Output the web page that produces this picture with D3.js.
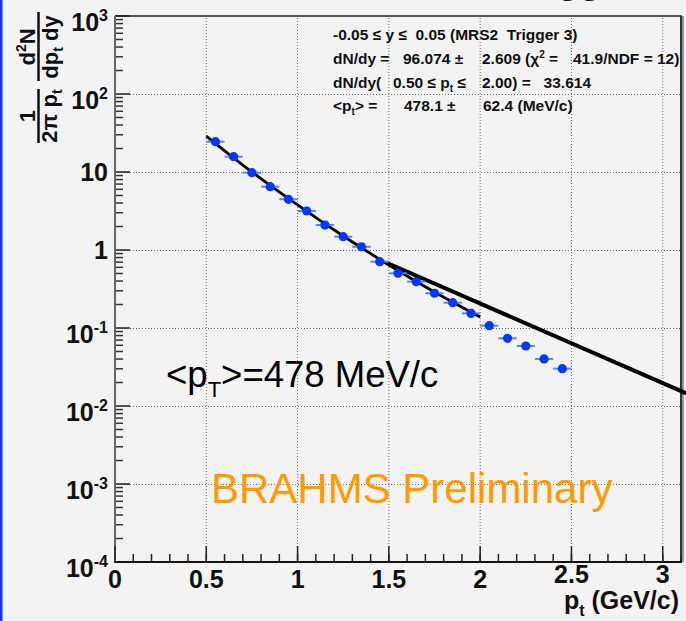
<!DOCTYPE html>
<html>
<head>
<meta charset="utf-8">
<script src="https://cdn.jsdelivr.net/npm/d3@7"></script>
<style>
  body { margin: 0; background: #f3f3f3; }
  svg { display: block; font-family: "Liberation Sans", Arial, sans-serif; }
  text { white-space: pre; }
</style>
</head>
<body>
<script>
// Spectrum data
var ptBins = [0.55, 0.65, 0.75, 0.85, 0.95, 1.05, 1.15, 1.25, 1.35, 1.45,
              1.55, 1.65, 1.75, 1.85, 1.95, 2.05, 2.15, 2.25, 2.35, 2.45];
var yields = [24.5, 15.7, 9.8, 6.48, 4.47, 3.16, 2.09, 1.48, 1.10, 0.708,
              0.502, 0.393, 0.279, 0.211, 0.154, 0.107, 0.0738, 0.0588, 0.0401, 0.0301];
var binHalf = 0.05;

// fit curve (0.5 - 2.0) and straight extrapolation line
var fitPt = [0.5, 0.75, 1.0, 1.25, 1.5, 1.75, 2.0];
var fitVal = [28.9, 10.0, 3.78, 1.51, 0.643, 0.289, 0.138];
var extPt = [1.488, 3.129];
var extVal = [0.687, 0.01455];

// axis ticks
var xTicks = [0, 0.5, 1, 1.5, 2, 2.5, 3];
var xTickLabels = ["0", "0.5", "1", "1.5", "2", "2.5", "3"];
var yDecades = [-4, -3, -2, -1, 0, 1, 2, 3];

// text
var statsLines = [
  [[333, "-0.05 \u2264 y \u2264  0.05 (MRS2  Trigger 3)"]],
  [[333, "dN/dy ="], [403, "96.074 \u00b1"], [482, "2.609 (\u03c7", "2", " ="], [573, "41.9/NDF = 12)"]],
  [[333, "dN/dy("], [393, "0.50 \u2264 p", "t", " \u2264"], [482, "2.00) =   33.614"]],
  [[333, "<p", "t", "> ="], [404, "478.1 \u00b1"], [483, "62.4 (MeV/c)"]]
];
var statsBase = [40, 64, 88, 111];

var w = 686;
var h = 621;

var xScale = d3.scaleLinear()
    .domain([0, 3.1])
    .range([115, 681]);

var yScale = d3.scaleLog()
    .domain([1e-4, 1e3])
    .range([562, 16]);

var svg = d3.select("body")
    .append("svg")
    .attr("width", w)
    .attr("height", h);

svg.append("rect")
    .attr("width", w)
    .attr("height", h)
    .attr("fill", "#f3f3f3");

// blue left stripe
svg.append("rect")
    .attr("x", 0).attr("y", 0)
    .attr("width", 2.5).attr("height", h)
    .attr("fill", "#1437ff");

// cut off title at the very top
svg.append("text")
    .attr("x", 557).attr("y", -7)
    .style("font", "bold 36px 'Liberation Sans', Arial, sans-serif")
    .attr("fill", "#111")
    .text("gg");

// grid
svg.append("g").selectAll("line")
    .data(xTicks.slice(1))
    .enter().append("line")
    .attr("x1", function(d) { return xScale(d); })
    .attr("x2", function(d) { return xScale(d); })
    .attr("y1", yScale.range()[0])
    .attr("y2", yScale.range()[1])
    .attr("stroke", "#666")
    .attr("stroke-width", 1)
    .attr("stroke-dasharray", "1,2");

svg.append("g").selectAll("line")
    .data(yDecades.slice(1, -1))
    .enter().append("line")
    .attr("x1", xScale.range()[0])
    .attr("x2", xScale.range()[1])
    .attr("y1", function(d) { return Math.round(yScale(Math.pow(10, d))) + 0.5; })
    .attr("y2", function(d) { return Math.round(yScale(Math.pow(10, d))) + 0.5; })
    .attr("stroke", "#666")
    .attr("stroke-width", 1)
    .attr("stroke-dasharray", "1,2");

// frame
var x0 = xScale.range()[0], x1 = xScale.range()[1];
var y0 = yScale.range()[0], y1 = yScale.range()[1];
svg.append("line").attr("x1", x1).attr("x2", x1).attr("y1", y1).attr("y2", y0)
    .attr("stroke", "#999").attr("stroke-width", 2).attr("transform", "translate(2,0)");
svg.append("line").attr("x1", x0).attr("x2", x1 + 1).attr("y1", y1).attr("y2", y1)
    .attr("stroke", "#222").attr("stroke-width", 1.5);
svg.append("line").attr("x1", x1).attr("x2", x1).attr("y1", y1).attr("y2", y0)
    .attr("stroke", "#333").attr("stroke-width", 2);

// y axis, ticks inside
var yMinor = [];
yDecades.slice(0, -1).forEach(function(e) {
  for (var k = 2; k <= 9; k++) yMinor.push(k * Math.pow(10, e));
});
svg.append("g").selectAll("line")
    .data(yMinor)
    .enter().append("line")
    .attr("x1", x0).attr("x2", x0 + 8)
    .attr("y1", function(d) { return yScale(d); })
    .attr("y2", function(d) { return yScale(d); })
    .attr("stroke", "#333").attr("stroke-width", 1.5);
svg.append("g").selectAll("line")
    .data(yDecades)
    .enter().append("line")
    .attr("x1", x0).attr("x2", x0 + 15)
    .attr("y1", function(d) { return yScale(Math.pow(10, d)); })
    .attr("y2", function(d) { return yScale(Math.pow(10, d)); })
    .attr("stroke", "#222").attr("stroke-width", 1.5);
svg.append("line").attr("x1", x0).attr("x2", x0).attr("y1", y1).attr("y2", y0 + 1)
    .attr("stroke", "#666").attr("stroke-width", 2);

// x axis, ticks inside
var xMinor = d3.range(1, 32).map(function(i) { return i / 10; });
svg.append("g").selectAll("line")
    .data(xMinor)
    .enter().append("line")
    .attr("x1", function(d) { return xScale(d); })
    .attr("x2", function(d) { return xScale(d); })
    .attr("y1", y0).attr("y2", y0 - 8)
    .attr("stroke", "#222").attr("stroke-width", 1.5);
svg.append("g").selectAll("line")
    .data(xTicks)
    .enter().append("line")
    .attr("x1", function(d) { return xScale(d); })
    .attr("x2", function(d) { return xScale(d); })
    .attr("y1", y0).attr("y2", y0 - 16)
    .attr("stroke", "#222").attr("stroke-width", 1.5);
svg.append("line").attr("x1", x0 - 1).attr("x2", x1 + 1).attr("y1", y0).attr("y2", y0)
    .attr("stroke", "#111").attr("stroke-width", 2);

// tick labels
var labelFont = "bold 25px 'Liberation Sans', Arial, sans-serif";
svg.append("g").selectAll("text")
    .data(xTicks)
    .enter().append("text")
    .attr("x", function(d) { return xScale(d); })
    .attr("y", function(d) { return d > 2.2 ? 583 : 588; })
    .attr("text-anchor", "middle")
    .style("font", labelFont)
    .attr("fill", "#111")
    .text(function(d, i) { return xTickLabels[i]; });

var yl = svg.append("g").selectAll("text")
    .data(yDecades)
    .enter().append("text")
    .attr("x", 108)
    .attr("y", function(d) {
      var ty = yScale(Math.pow(10, d));
      return (d === 0 || d === 1) ? ty + 9 : ty + 15;
    })
    .attr("text-anchor", "end")
    .style("font", labelFont)
    .attr("fill", "#111");
yl.append("tspan").text(function(d) { return d === 0 ? "1" : "10"; });
yl.filter(function(d) { return d !== 0 && d !== 1; })
    .append("tspan")
    .attr("dy", -10)
    .style("font-size", "16px")
    .text(function(d) { return String(d); });

// axis titles
var xt = svg.append("text")
    .attr("x", 679).attr("y", 609)
    .attr("text-anchor", "end")
    .style("font", labelFont)
    .attr("fill", "#111");
xt.append("tspan").text("p");
xt.append("tspan").attr("dy", 7).style("font-size", "16px").text("t");
xt.append("tspan").attr("dy", -7).text(" (GeV/c)");

var yt = svg.append("g").attr("transform", "rotate(-90)");
var titleFont = "bold 22px 'Liberation Sans', Arial, sans-serif";
// 1 / (2 pi p_t)
yt.append("text").attr("x", -116).attr("y", 35).attr("text-anchor", "middle")
    .style("font", titleFont).attr("fill", "#111").text("1");
yt.append("line").attr("x1", -143).attr("x2", -89).attr("y1", 38.5).attr("y2", 38.5)
    .attr("stroke", "#111").attr("stroke-width", 2.5);
var dn1 = yt.append("text").attr("x", -116).attr("y", 57).attr("text-anchor", "middle")
    .style("font", titleFont).attr("fill", "#111");
dn1.append("tspan").text("2\u03c0 p");
dn1.append("tspan").attr("dy", 5).style("font-size", "14px").text("t");
// d2N / (dp_t dy)
var nm2 = yt.append("text").attr("x", -47).attr("y", 35).attr("text-anchor", "middle")
    .style("font", titleFont).attr("fill", "#111");
nm2.append("tspan").text("d");
nm2.append("tspan").attr("dy", -9).style("font-size", "14px").text("2");
nm2.append("tspan").attr("dy", 9).text("N");
yt.append("line").attr("x1", -81).attr("x2", -12).attr("y1", 38.5).attr("y2", 38.5)
    .attr("stroke", "#111").attr("stroke-width", 2.5);
var dn2 = yt.append("text").attr("x", -47).attr("y", 58).attr("text-anchor", "middle")
    .style("font", titleFont).attr("fill", "#111");
dn2.append("tspan").text("dp");
dn2.append("tspan").attr("dy", 5).style("font-size", "14px").text("t");
dn2.append("tspan").attr("dy", -5).text(" dy");

// stats box text
var statsFont = "bold 15.5px 'Liberation Sans', Arial, sans-serif";
statsLines.forEach(function(line, li) {
  line.forEach(function(seg) {
    var t = svg.append("text")
        .attr("x", seg[0])
        .attr("y", statsBase[li])
        .style("font", statsFont)
        .attr("fill", "#111");
    t.append("tspan").text(seg[1]);
    if (seg.length > 2) {
      var sup = seg[1].indexOf("\u03c7") >= 0;
      t.append("tspan").attr("dy", sup ? -6 : 4).style("font-size", "10px").text(seg[2]);
      t.append("tspan").attr("dy", sup ? 6 : -4).text(seg[3]);
    }
  });
});

// lines
var line = d3.line()
    .x(function(d) { return xScale(d[0]); })
    .y(function(d) { return yScale(d[1]); });

svg.append("path")
    .datum(d3.zip(fitPt, fitVal))
    .attr("d", line.curve(d3.curveMonotoneX))
    .attr("fill", "none")
    .attr("stroke", "#000")
    .attr("stroke-width", 2.8);

svg.append("path")
    .datum(d3.zip(extPt, extVal))
    .attr("d", line.curve(d3.curveLinear))
    .attr("fill", "none")
    .attr("stroke", "#000")
    .attr("stroke-width", 4);

// data points
var pts = d3.zip(ptBins, yields);
svg.append("g").selectAll("line")
    .data(pts)
    .enter().append("line")
    .attr("x1", function(d) { return xScale(d[0] - binHalf); })
    .attr("x2", function(d) { return xScale(d[0] + binHalf); })
    .attr("y1", function(d) { return yScale(d[1]); })
    .attr("y2", function(d) { return yScale(d[1]); })
    .attr("stroke", "#5b80ff")
    .attr("stroke-width", 2);

svg.append("g").selectAll("circle")
    .data(pts)
    .enter().append("circle")
    .attr("cx", function(d) { return xScale(d[0]); })
    .attr("cy", function(d) { return yScale(d[1]); })
    .attr("r", 4.6)
    .attr("fill", "#0038ff");

// annotations
var ann = svg.append("text")
    .attr("x", 166).attr("y", 387)
    .style("font", "36.5px 'Liberation Sans', Arial, sans-serif")
    .attr("fill", "#000");
ann.append("tspan").text("<p");
ann.append("tspan").attr("dy", 10).style("font-size", "22px").text("T");
ann.append("tspan").attr("dy", -10).text(">=478 MeV/c");

svg.append("text")
    .attr("x", 211).attr("y", 503)
    .style("font", "42px 'Liberation Sans', Arial, sans-serif")
    .attr("fill", "#ff9a00")
    .text("BRAHMS Preliminary");
</script>
</body>
</html>
